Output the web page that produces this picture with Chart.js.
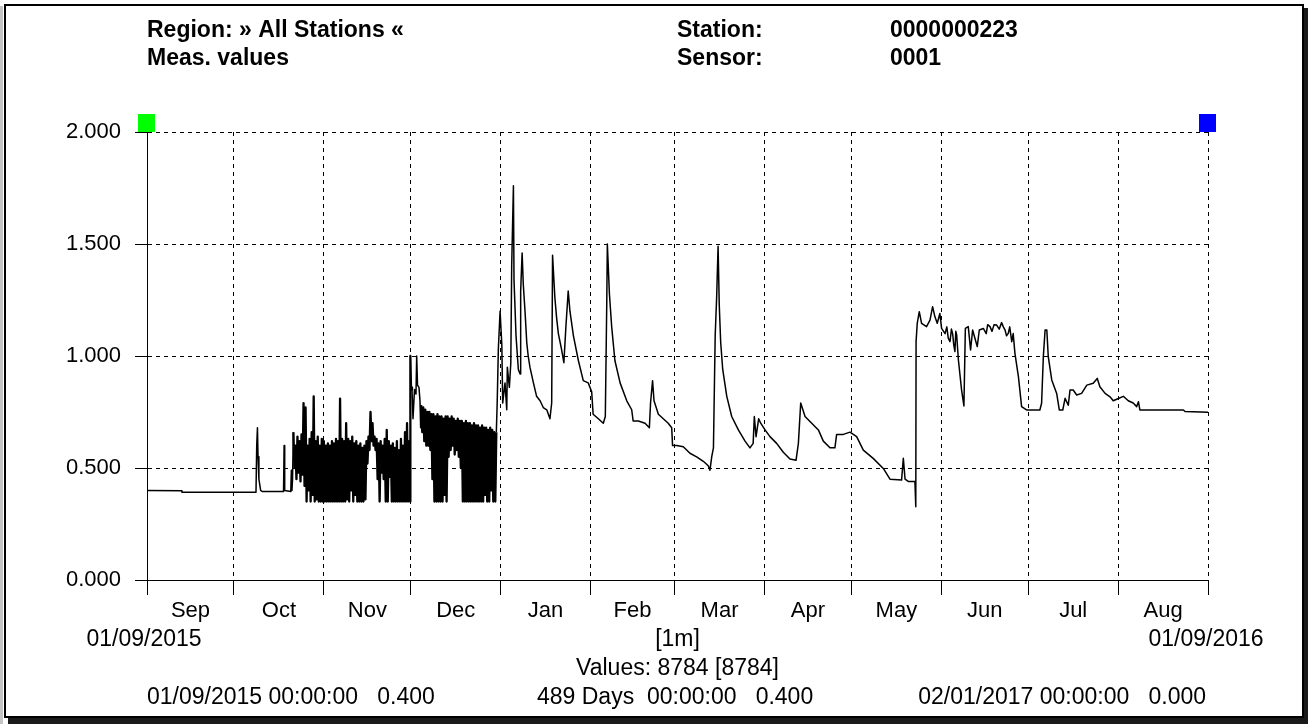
<!DOCTYPE html>
<html>
<head>
<meta charset="utf-8">
<script src="https://cdn.jsdelivr.net/npm/chart.js@4.4.1/dist/chart.umd.min.js"></script>
<style>
html,body{margin:0;padding:0;background:#fff;}
canvas{display:block;}
</style>
</head>
<body>
<canvas id="c" width="1308" height="724"></canvas>
<script>
// ---- axis / label data ----
const monthStarts = [0,30,61,91,122,153,182,213,243,274,304,335,366]; // days since 01/09/2015
const monthLabels = ['Sep','Oct','Nov','Dec','Jan','Feb','Mar','Apr','May','Jun','Jul','Aug'];
const yTicks = [0, 0.5, 1.0, 1.5, 2.0];
const headerLeft = ['Region: \u00bb All Stations \u00ab', 'Meas. values'];
const headerKeys = ['Station:', 'Sensor:'];
const headerVals = ['0000000223', '0001'];
const startLabel = '01/09/2015';
const endLabel = '01/09/2016';
const intervalLabel = '[1m]';
const countLabel = 'Values: 8784 [8784]';
const footer = ['01/09/2015 00:00:00   0.400', '489 Days  00:00:00   0.400', '02/01/2017 00:00:00   0.000'];

// ---- series data: [day, value] ----
const earlyPoints = [[0,0.40],[12.0,0.398],[12.05,0.392],[37.6,0.392],[37.85,0.60],[38.1,0.68],[38.3,0.55],[38.6,0.45],[39.2,0.40],[39.7,0.395],[47.1,0.395],[47.3,0.60],[47.5,0.40],[49.6,0.395],[49.8,0.49],[50.0,0.40],[50.2,0.45]];

// burst regime (Oct-Nov): each sample = a high reading followed by a low reading
const burst1Start = 50.5, burstStep = 0.7;
const burst1Tops = [.66,.60,.64,.62,.65,.79,.77,.60,.63,.66,.82,.62,.64,.60,.63,.62,.60,.61,.60,.62,.61,.63,.62,.81,.63,.62,.70,.63,.62,.64,.61,.62,.60,.61,.59,.60,.62,.64,.75,.70,.64,.63,.61,.62,.60,.63,.67,.62,.60,.61,.59,.62,.58,.63,.60,.66,.70,.62];
const burst1Lows = [.50,.45,.48,.44,.47,.42,.35,.40,.35,.38,.35,.36,.35,.35,.35,.35,.35,.35,.35,.35,.35,.35,.35,.35,.35,.35,.36,.35,.40,.35,.38,.35,.35,.35,.35,.36,.52,.58,.62,.60,.58,.45,.35,.48,.45,.35,.35,.46,.35,.35,.35,.35,.35,.35,.35,.35,.35,.35];

const decPoints = [[90.85,1.00],[91.07,0.86],[91.41,0.85],[91.76,0.72],[92.27,0.85],[92.79,0.83],[93.03,1.00],[93.31,0.87],[93.82,0.86],[94.17,0.80],[94.4,0.68]];

const burst2Start = 94.6;
const burst2Tops = [.78,.77,.76,.75,.75,.74,.74,.73,.74,.73,.73,.72,.73,.73,.72,.73,.72,.71,.72,.71,.71,.70,.71,.70,.70,.69,.70,.69,.69,.68,.69,.68,.68,.67,.68,.67,.66];
const burst2Lows = [.66,.62,.60,.60,.58,.45,.35,.35,.35,.35,.35,.38,.35,.55,.58,.60,.56,.58,.55,.50,.35,.35,.35,.35,.35,.35,.35,.35,.35,.35,.35,.38,.35,.35,.40,.35,.35];

const latePoints = [[120.5,.66],[120.8,.79],[121.2,1.03],[121.8,1.20],[122.4,1.05],[122.7,.79],[123.5,.88],[124.1,.76],[124.3,.95],[125.0,.86],[125.5,.97],[125.8,1.40],[126.4,1.76],[126.6,1.34],[127.3,1.09],[128.1,.94],[128.7,.92],[128.9,1.29],[129.4,1.46],[129.8,1.32],[130.4,1.20],[131.0,1.06],[131.5,1.00],[132.1,.95],[133.3,.88],[134.4,.82],[135.6,.80],[136.7,.77],[137.9,.76],[139.0,.72],[139.6,.79],[139.9,1.45],[140.7,1.26],[141.3,1.17],[141.9,1.10],[143.0,1.03],[143.8,.97],[144.5,1.13],[145.3,1.29],[145.9,1.20],[147.1,1.09],[148.8,.98],[150.5,.89],[152.2,.88],[153.4,.84],[153.9,.74],[155.7,.72],[157.4,.70],[158.1,.73],[158.6,1.24],[158.8,1.50],[159.5,1.28],[160.3,1.13],[161.4,.98],[163.2,.88],[165.5,.80],[167.2,.76],[167.7,.71],[169.5,.71],[171.8,.70],[173.3,.68],[173.7,.79],[174.4,.89],[174.9,.80],[176.4,.74],[178.1,.72],[179.8,.70],[181.0,.68],[181.3,.60],[182.7,.60],[185.0,.595],[187.3,.566],[189.6,.55],[191.9,.53],[193.6,.51],[194.2,.49],[194.8,.55],[195.4,.59],[196.0,1.09],[196.5,1.26],[197.0,1.49],[197.4,1.23],[197.9,1.06],[198.6,.94],[200.0,.82],[201.7,.73],[204.0,.67],[206.3,.62],[208.0,.59],[209.1,.61],[209.5,.73],[210.1,.64],[211.0,.72],[211.7,.70],[213.2,.67],[214.9,.64],[217.2,.61],[219.5,.57],[221.8,.54],[223.9,.535],[224.7,.61],[225.5,.79],[227.0,.73],[229.3,.70],[231.6,.67],[233.3,.62],[235.6,.59],[237.3,.59],[237.9,.65],[240.2,.65],[242.5,.66],[244.8,.64],[247.1,.58],[250.5,.543],[254.0,.498],[256.3,.45],[260.3,.446],[260.9,.543],[261.5,.45],[262.6,.44],[264.9,.44],[265.2,.327],[265.3,1.064],[265.7,1.146],[266.4,1.198],[267.2,1.146],[268.9,1.131],[270.1,1.16],[271.0,1.22],[271.8,1.175],[272.6,1.146],[273.5,1.19],[274.1,1.123],[275.3,1.10],[275.9,1.13],[276.4,1.08],[277.0,1.064],[277.5,1.12],[277.9,1.10],[278.3,1.05],[278.7,1.02],[279.0,1.11],[279.3,1.094],[279.9,.982],[281.0,.848],[281.8,.777],[282.3,1.123],[283.3,1.131],[284.1,1.027],[284.8,1.116],[285.6,1.079],[286.4,1.042],[287.1,1.116],[288.5,1.123],[289.5,1.10],[290.0,1.14],[290.8,1.131],[291.5,1.11],[292.2,1.14],[293.1,1.138],[294.0,1.12],[294.8,1.149],[295.4,1.13],[296.0,1.116],[296.5,1.09],[297.1,1.101],[297.6,1.13],[298.3,1.064],[298.8,1.10],[299.4,1.012],[300.6,.908],[301.7,.774],[303.4,.759],[308.0,.759],[308.6,.789],[309.2,.997],[309.8,1.116],[310.4,1.116],[310.9,.997],[312.1,.893],[313.8,.833],[314.7,.759],[315.9,.759],[316.7,.811],[317.8,.78],[318.4,.848],[319.5,.848],[320.7,.826],[322.4,.833],[324.2,.87],[326.4,.878],[327.8,.90],[328.7,.863],[330.5,.833],[332.2,.818],[333.3,.80],[335.1,.81],[336.8,.82],[338.5,.80],[340.2,.79],[341.4,.774],[342.0,.796],[342.5,.759],[357.5,.759],[358.1,.752],[366,.749]];

// ---- assemble series ----
function burst(start, tops, lows) {
  const out = [];
  for (let i = 0; i < tops.length; i++) {
    const t = start + i * burstStep;
    out.push({x: t, y: tops[i]});
    out.push({x: t + burstStep / 2, y: lows[i]});
  }
  return out;
}
const pairs = p => p.map(([x, y]) => ({x, y}));
const series = [].concat(
  pairs(earlyPoints),
  burst(burst1Start, burst1Tops, burst1Lows),
  pairs(decPoints),
  burst(burst2Start, burst2Tops, burst2Lows),
  pairs(latePoints)
);
const burstRanges = [
  [burst1Start, burst1Start + burst1Tops.length * burstStep],
  [burst2Start, burst2Start + burst2Tops.length * burstStep]
];
const inBurst = x => burstRanges.some(([a, b]) => x >= a && x < b);

const FONT = "'Liberation Sans', Arial, sans-serif";

const deco = {
  id: 'deco',
  beforeDraw(chart) {
    const ctx = chart.ctx;
    ctx.save();
    ctx.fillStyle = '#fff';
    ctx.fillRect(0, 0, chart.width, chart.height);
    // frame with shadow
    ctx.fillStyle = '#c4c4c4';
    ctx.fillRect(0, 6, 3, 718);
    ctx.fillStyle = '#1a1a1a';
    ctx.fillRect(1304, 8, 4, 716);
    ctx.fillRect(8, 718, 1300, 6);
    ctx.strokeStyle = '#000';
    ctx.lineWidth = 2;
    ctx.strokeRect(5, 5, 1298, 712);
    ctx.restore();
  },
  afterDraw(chart) {
    const ctx = chart.ctx;
    const xs = chart.scales.x, ys = chart.scales.y;
    const x0 = xs.getPixelForValue(monthStarts[0]);
    const x1 = xs.getPixelForValue(monthStarts[monthStarts.length - 1]);
    const yTop = ys.getPixelForValue(yTicks[yTicks.length - 1]);
    ctx.save();
    // range markers
    ctx.fillStyle = '#00ff00';
    ctx.fillRect(x0 - 9, yTop - 18, 17, 18);
    ctx.fillStyle = '#0000ff';
    ctx.fillRect(x1 - 9, yTop - 18, 17, 18);

    ctx.fillStyle = '#000';
    ctx.textBaseline = 'alphabetic';
    // header
    ctx.font = 'bold 23px ' + FONT;
    ctx.textAlign = 'left';
    ctx.fillText(headerLeft[0], 147, 37);
    ctx.fillText(headerLeft[1], 147, 65);
    ctx.fillText(headerKeys[0], 677, 37);
    ctx.fillText(headerKeys[1], 677, 65);
    ctx.fillText(headerVals[0], 890, 37);
    ctx.fillText(headerVals[1], 890, 65);

    // month labels centred in each month
    ctx.font = '22px ' + FONT;
    ctx.textAlign = 'center';
    for (let i = 0; i < monthLabels.length; i++) {
      const cx = xs.getPixelForValue((monthStarts[i] + monthStarts[i + 1]) / 2);
      ctx.fillText(monthLabels[i], cx, 617);
    }
    ctx.font = '23px ' + FONT;
    ctx.fillText(startLabel, x0 - 3, 646);
    ctx.fillText(endLabel, x1 - 2, 646);
    ctx.fillText(intervalLabel, (x0 + x1) / 2, 646);
    ctx.fillText(countLabel, (x0 + x1) / 2, 675);
    ctx.textAlign = 'left';
    ctx.fillText(footer[0], 147, 704);
    ctx.fillText(footer[1], 537, 704);
    ctx.textAlign = 'right';
    ctx.fillText(footer[2], 1206, 704);
    ctx.restore();
  }
};

new Chart(document.getElementById('c'), {
  type: 'line',
  data: {
    datasets: [{
      data: series,
      borderColor: '#000',
      borderWidth: 1.5,
      borderJoinStyle: 'round',
      pointRadius: 0,
      tension: 0,
      fill: false,
      segment: {
        borderWidth: c => inBurst(c.p0.parsed.x) ? 2.3 : undefined
      }
    }]
  },
  options: {
    responsive: false,
    animation: false,
    devicePixelRatio: 1,
    layout: {padding: {left: 0, right: 100, top: 132, bottom: 0}},
    plugins: {legend: {display: false}, tooltip: {enabled: false}},
    scales: {
      x: {
        type: 'linear', min: 0, max: 366,
        afterBuildTicks(s) { s.ticks = monthStarts.map(v => ({value: v})); },
        afterFit(s) { s.height = 144; },
        ticks: {display: false},
        grid: {color: '#000', lineWidth: 1, tickLength: 15, tickColor: '#000', tickWidth: 1},
        border: {display: true, color: '#000', width: 1, dash: [4, 4]}
      },
      y: {
        min: 0, max: 2,
        afterBuildTicks(s) { s.ticks = yTicks.map(v => ({value: v})); },
        afterFit(s) { s.width = 147; },
        ticks: {color: '#000', padding: 14, font: {family: FONT, size: 22}, callback: v => Number(v).toFixed(3)},
        grid: {color: '#000', lineWidth: 1, tickLength: 12, tickColor: '#000', tickWidth: 1},
        border: {display: true, color: '#000', width: 1, dash: [4, 4]}
      }
    }
  },
  plugins: [deco]
});
</script>
</body>
</html>
